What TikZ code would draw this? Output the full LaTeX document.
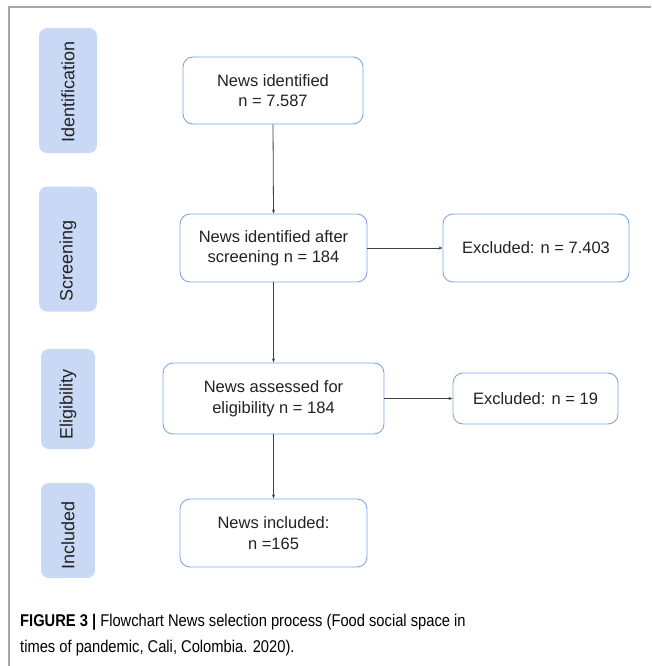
\documentclass[tikz,border=0pt]{standalone}
\usepackage{fontspec}
\setmainfont{Liberation Sans}
\usetikzlibrary{arrows.meta}
\definecolor{stagefill}{HTML}{C9D9F5}
\definecolor{boxline}{HTML}{7FA6E6}
\definecolor{txt}{HTML}{222222}
\tikzset{
  stagebox/.style={draw=none, fill=stagefill, rounded corners=8pt, inner sep=0pt},
  stagetext/.style={rotate=90, anchor=west, inner sep=0pt, font=\fontsize{18}{20}\selectfont, text=txt},
  flowbox/.style={draw=boxline, line width=0.9pt, fill=white, rounded corners=10pt, align=center,
    font=\fontsize{16.5}{20.5}\selectfont, text=txt, inner sep=0pt},
  conn/.style={draw=black!75, line width=0.8pt, -{Stealth[length=4pt,width=3pt]}},
  captext/.style={anchor=base west, inner sep=0pt, text=black, font=\fontsize{17}{17}\selectfont},
}
\begin{document}
\begin{tikzpicture}[x=1pt,y=-1pt]
\useasboundingbox (0,0) rectangle (651,666);
% frame
\draw[gray!70, line width=1.2pt] (9,666) -- (9,7) -- (651,7);
% stage boxes
\node[stagebox, minimum width=58pt, minimum height=125pt] (s1) at (68,90.5) {};
\node[stagetext] (t1) at (68,143) {Identification};
\node[stagebox, minimum width=58pt, minimum height=125pt] (s2) at (68,249) {};
\node[stagetext] (t2) at (68,302) {Screening};
\node[stagebox, minimum width=54pt, minimum height=100pt] (s3) at (68,399) {};
\node[stagetext] (t3) at (68,440) {Eligibility};
\node[stagebox, minimum width=54pt, minimum height=95pt] (s4) at (68,530.5) {};
\node[stagetext] (t4) at (68,570) {Included};
% flow boxes
\node[flowbox, minimum width=180pt, minimum height=67pt] (id) at (273,90.5) {News identified\\n = 7.587};
\node[flowbox, minimum width=187pt, minimum height=68pt] (scr) at (273.5,248) {News identified after\\screening n = 184};
\node[flowbox, minimum width=186pt, minimum height=68pt] (ex1) at (536,248) {Excluded: n = 7.403};
\node[flowbox, minimum width=221pt, minimum height=71pt] (el) at (273.5,398.5) {News assessed for\\eligibility n = 184};
\node[flowbox, minimum width=165pt, minimum height=51pt] (ex2) at (535.5,398.5) {Excluded: n = 19};
\node[flowbox, minimum width=187pt, minimum height=68pt] (inc) at (273.5,533) {News included:\\n =165};
% connectors
\draw[conn] (id.south) -- (scr.north);
\draw[conn] (scr.south) -- (el.north);
\draw[conn] (el.south) -- (inc.north);
\draw[conn] (scr.east) -- (ex1.west);
\draw[conn] (el.east) -- (ex2.west);
% caption
\node[captext] (cap1) at (20,626)
  {\scalebox{0.865}[1]{\textbf{FIGURE 3 |} Flowchart News selection process (Food social space in}};
\node[captext] (cap2) at (20,652)
  {\scalebox{0.865}[1]{times of pandemic, Cali, Colombia. 2020).}};
\end{tikzpicture}
\end{document}
